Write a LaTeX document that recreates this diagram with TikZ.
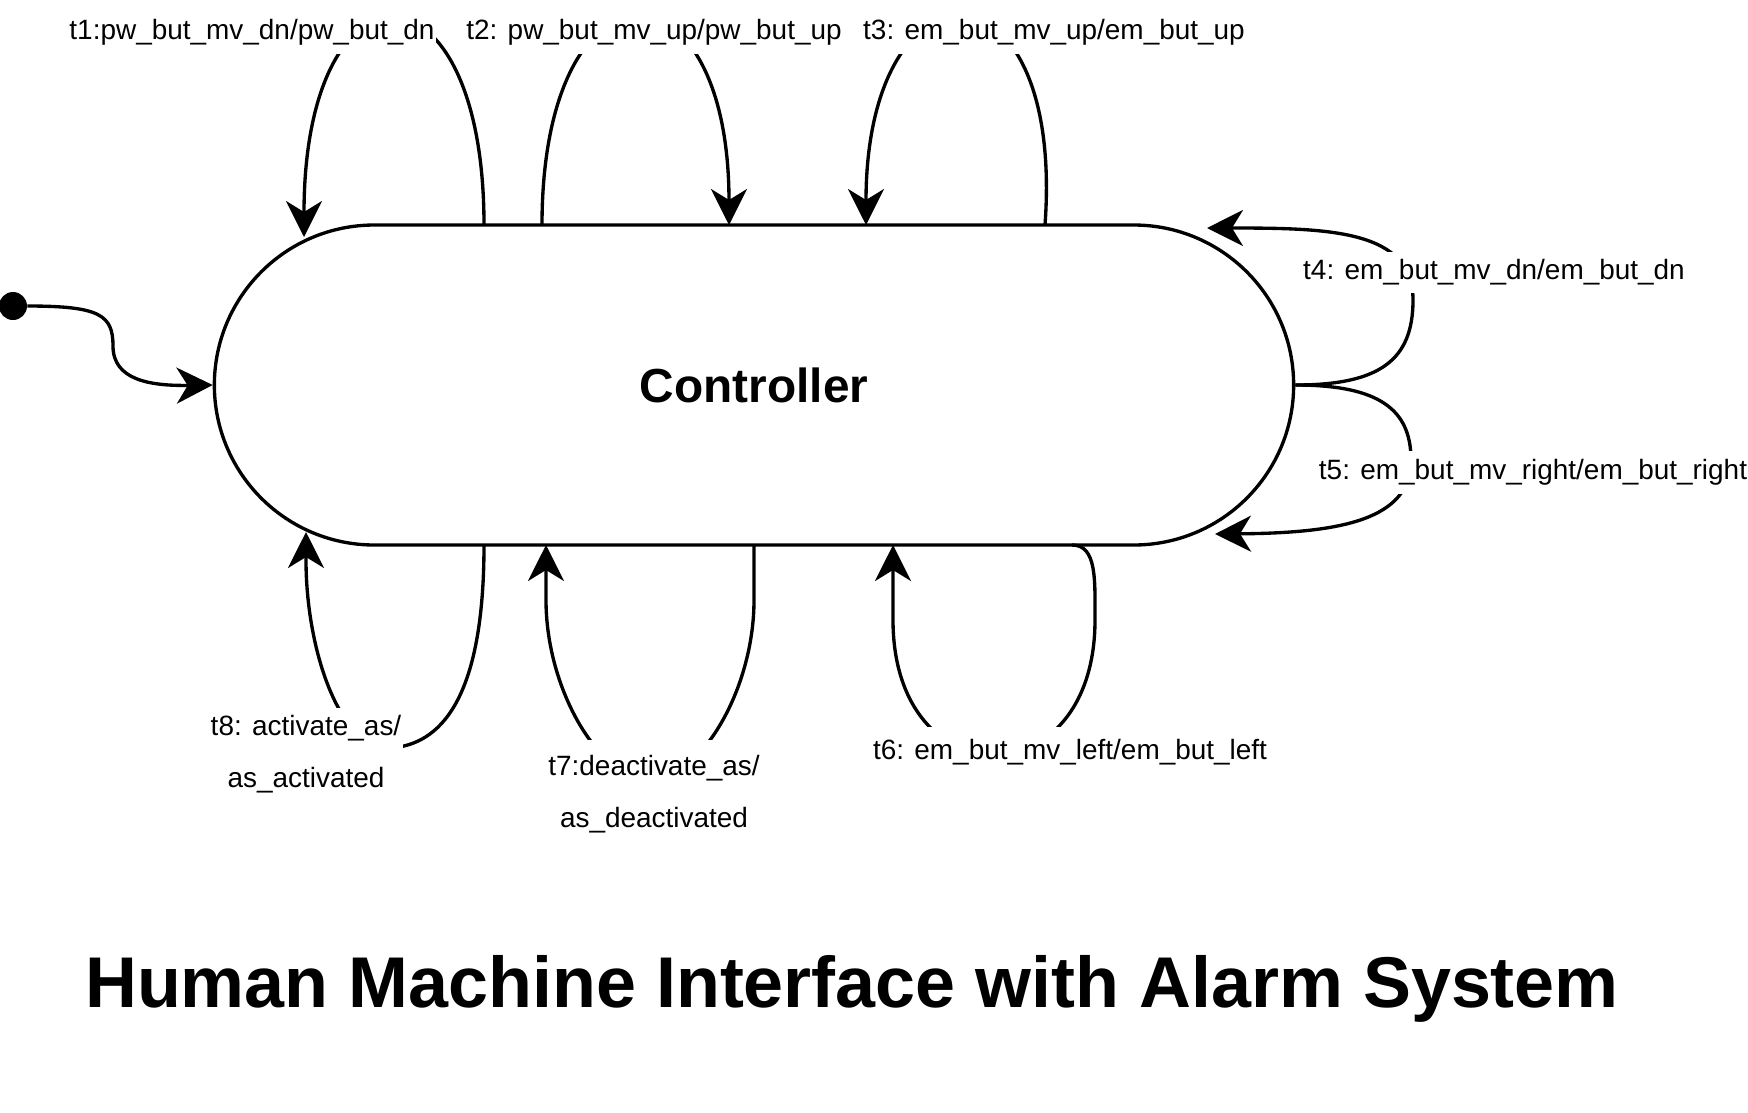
\documentclass[tikz,border=0pt]{standalone}
\usepackage{fontspec}
\setmainfont{Liberation Sans}
\usetikzlibrary{arrows.meta,shapes.misc}

\begin{document}
\begin{tikzpicture}[
  state/.style={rounded rectangle, draw, line width=1.9pt, minimum width=21.82cm,
                minimum height=6.4cm, font=\fontsize{27.2}{32}\selectfont\bfseries},
  startdot/.style={circle, fill, inner sep=0pt, minimum size=0.56cm},
  trans/.style={-{Stealth[length=0.72cm, width=0.72cm, inset=0.22cm]}, line width=1.9pt},
  tlabel/.style={fill=white, inner xsep=1pt, inner ysep=0.16cm, align=center,
                 font=\fontsize{15.9}{29.6}\selectfont},
  title/.style={font=\fontsize{40.9}{48}\selectfont\bfseries}
]
  \useasboundingbox (0,0) rectangle (34.96,-22.24);

  \node[state]    (ctrl)  at (15.08,-7.70)  {Controller};
  \node[startdot] (init)  at (0.26,-6.12)   {};
  \node[title]    (title) at (17.04,-19.77) {Human Machine Interface with Alarm System};

  % ends of the transitions on the state border
  \coordinate (t1a) at (9.68,-4.50);   \coordinate (t1b) at (6.08,-4.74);
  \coordinate (t2a) at (10.84,-4.50);  \coordinate (t2b) at (14.58,-4.50);
  \coordinate (t3a) at (20.90,-4.50);  \coordinate (t3b) at (17.32,-4.50);
  \coordinate (t4b) at (24.14,-4.56);  \coordinate (t5b) at (24.30,-10.68);
  \coordinate (t6a) at (21.44,-10.90); \coordinate (t6b) at (17.86,-10.90);
  \coordinate (t7a) at (15.08,-10.90); \coordinate (t7b) at (10.92,-10.90);
  \coordinate (t8a) at (9.68,-10.90);  \coordinate (t8b) at (6.12,-10.64);

  \draw[trans] (init) .. controls (2.0,-6.12) and (2.26,-6.3) .. (2.26,-6.92)
               .. controls (2.26,-7.6) and (3.0,-7.72) .. (ctrl.west);

  \draw[trans] (t1a) .. controls (9.68,1.0) and (6.08,1.0) .. (t1b);
  \draw[trans] (t2a) .. controls (10.84,1.0) and (14.58,1.0) .. (t2b);
  \draw[trans] (t3a) .. controls (21.30,1.0) and (17.32,1.0) .. (t3b);
  \draw[trans] (ctrl.east) .. controls (27.6,-7.7) and (28.26,-7.2) .. (28.26,-6.0)
               .. controls (28.26,-4.6) and (26.6,-4.56) .. (t4b);
  \draw[trans] (ctrl.east) .. controls (27.6,-7.7) and (28.22,-8.2) .. (28.22,-9.2)
               .. controls (28.22,-10.4) and (26.8,-10.66) .. (t5b);
  \draw[trans] (t6a) .. controls (21.94,-10.9) and (21.9,-11.6) .. (21.9,-12.4)
               .. controls (21.9,-16.0) and (17.86,-16.0) .. (17.86,-12.4) -- (t6b);
  \draw[trans] (t7a) -- (15.08,-12.0) .. controls (15.08,-13.8) and (14.0,-15.6) .. (13.0,-15.6)
               .. controls (12.0,-15.6) and (10.92,-13.8) .. (10.92,-12.0) -- (t7b);
  \draw[trans] (t8a) .. controls (9.68,-14.0) and (8.8,-14.9) .. (7.8,-14.96)
               .. controls (6.8,-15.0) and (6.12,-13.0) .. (6.12,-11.2) -- (t8b);

  \node[tlabel] (l1) at (5.04,-0.65)   {t1:pw\_but\_mv\_dn/pw\_but\_dn};
  \node[tlabel] (l2) at (13.08,-0.65)  {t2: pw\_but\_mv\_up/pw\_but\_up};
  \node[tlabel] (l3) at (21.08,-0.65)  {t3: em\_but\_mv\_up/em\_but\_up};
  \node[tlabel] (l4) at (29.88,-5.45)  {t4: em\_but\_mv\_dn/em\_but\_dn};
  \node[tlabel] (l5) at (30.66,-9.45)  {t5: em\_but\_mv\_right/em\_but\_right};
  \node[tlabel, inner ysep=0.26cm] (l6) at (21.40,-15.05) {t6: em\_but\_mv\_left/em\_but\_left};
  \node[tlabel, inner ysep=0.32cm] (l7) at (13.08,-15.89) {t7:deactivate\_as/\\as\_deactivated};
  \node[tlabel] (l8) at (6.12,-15.09)  {t8: activate\_as/\\as\_activated};

\end{tikzpicture}
\end{document}
